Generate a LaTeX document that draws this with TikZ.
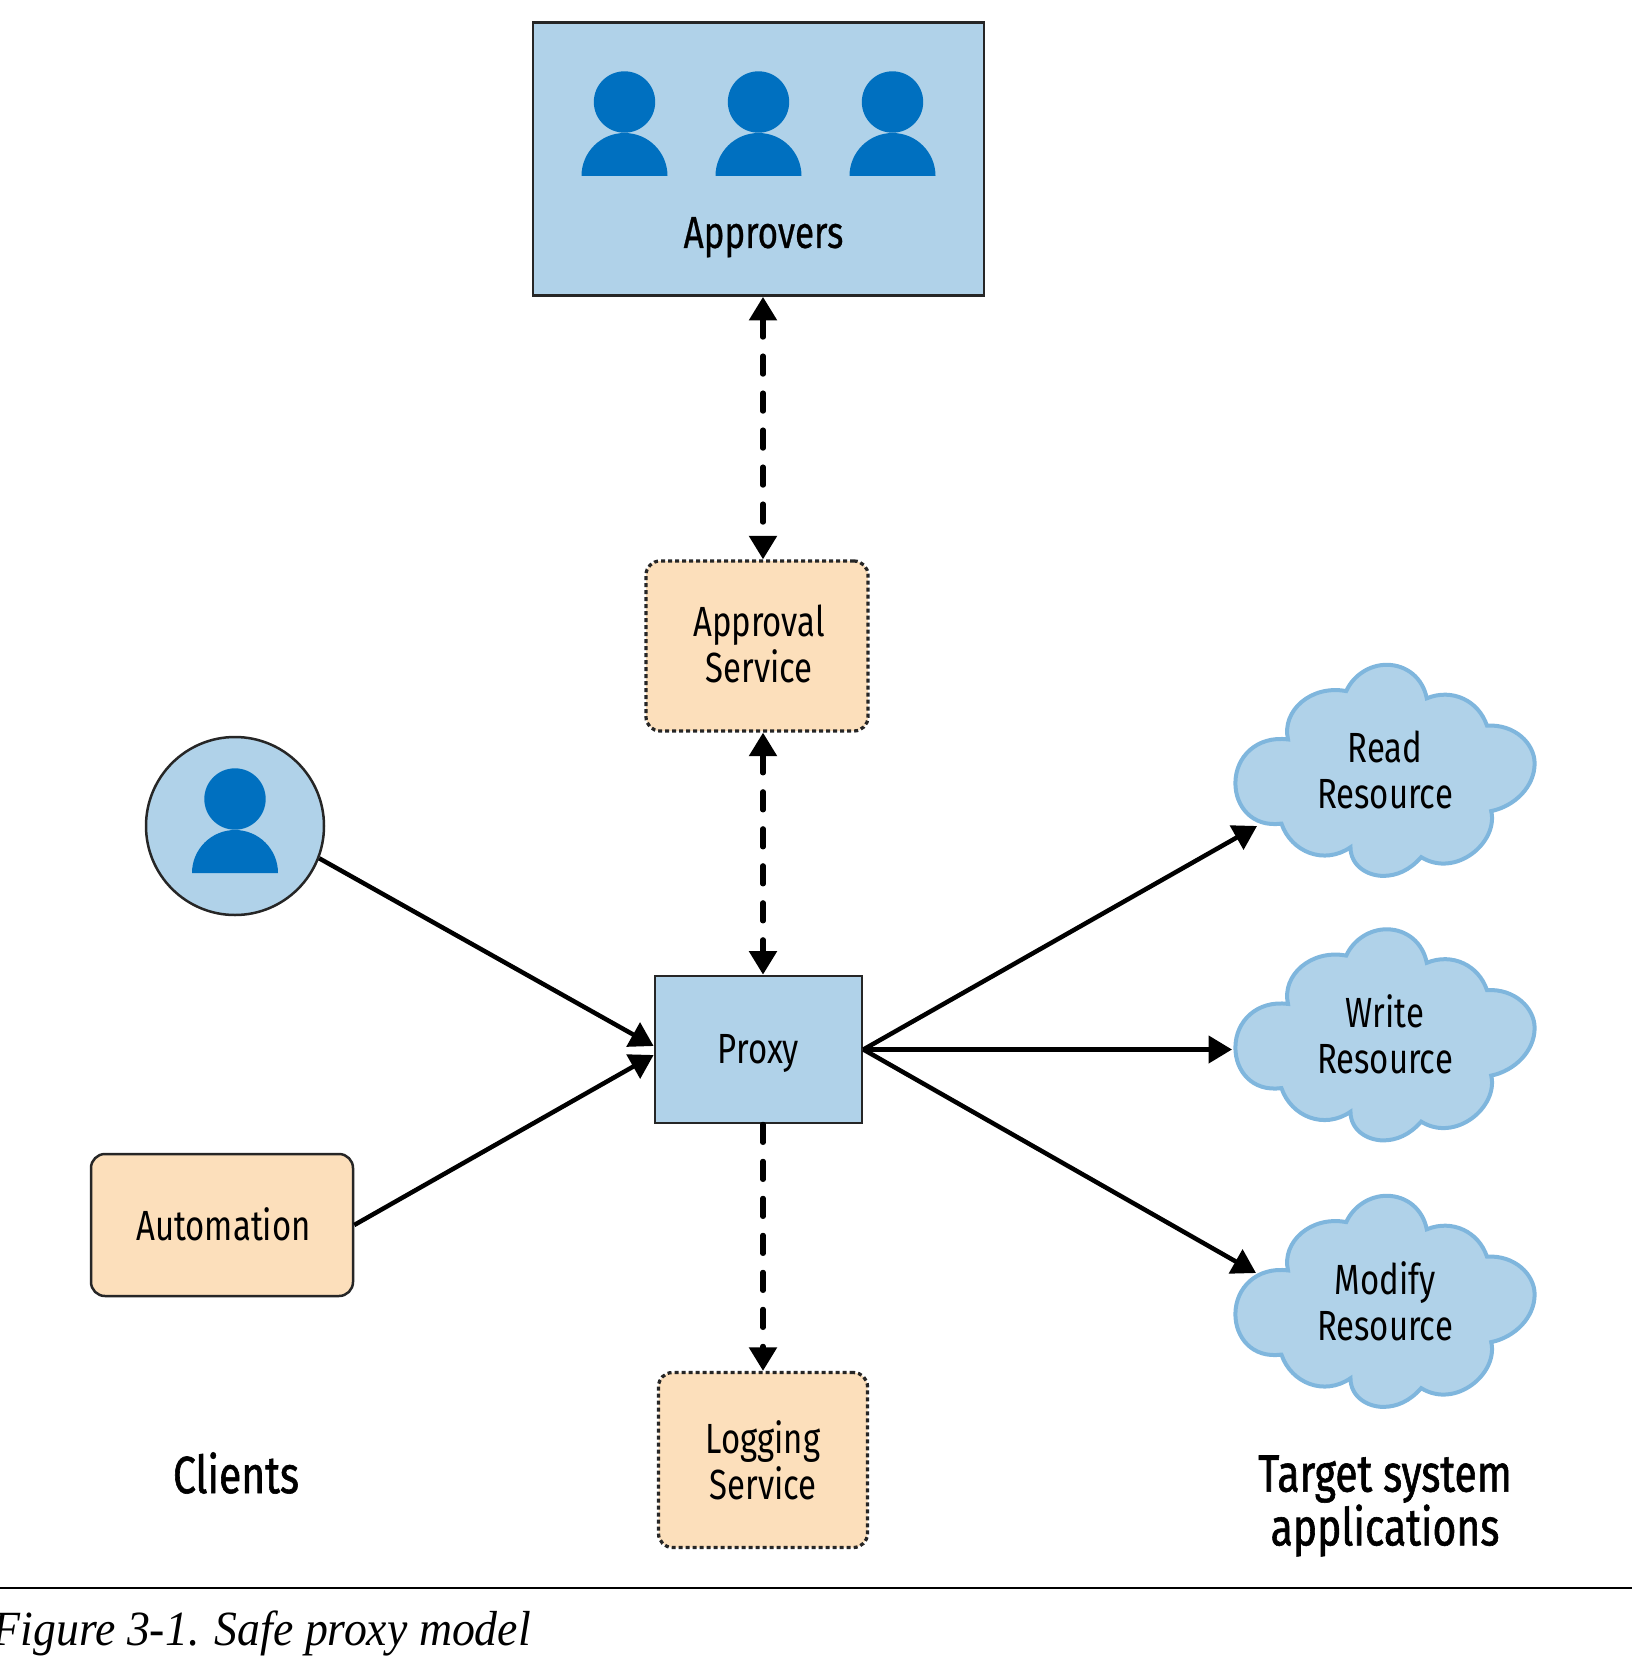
\documentclass[tikz,border=0pt]{standalone}
\usepackage{fontspec}
\setmainfont[FakeStretch=0.78]{Fira Sans}
\newfontfamily\mediumfont[FakeStretch=0.78,FakeBold=0.5]{Fira Sans}
\newfontfamily\heavyfont[FakeStretch=0.78,FakeBold=1.1]{Fira Sans}
\newfontfamily\captionfont[FakeStretch=0.93]{Liberation Serif}
\usetikzlibrary{calc,positioning,arrows.meta,backgrounds}

\definecolor{boxblue}{HTML}{B0D2E9}
\definecolor{cloudedge}{HTML}{7FB6DD}
\definecolor{personblue}{HTML}{0070C0}
\definecolor{boxorange}{HTML}{FCDFBB}

\tikzset{
  headtip/.tip={Triangle[length=0.47cm,width=0.54cm]},
  bluebox/.style={draw=black!85,fill=boxblue,line width=0.055cm,inner sep=0pt},
  orangebox/.style={draw=black!85,fill=boxorange,line width=0.05cm,rounded corners=0.28cm,inner sep=0pt,align=center},
  serviceline/.style={line width=0.065cm,dash pattern=on 0.08cm off 0.06cm},
  flowline/.style={line width=0.09cm,-headtip},
  dashline/.style={line width=0.105cm,line cap=round,dash pattern=on 0.36cm off 0.38cm},
  textlabel/.style={font=\fontsize{24pt}{26.4pt}\selectfont,align=center,inner sep=0pt},
  grouplabel/.style={font=\fontsize{29.8pt}{29pt}\selectfont\heavyfont,align=center,inner sep=0pt},
  person/.pic={
    \fill[personblue] (0,0) circle[radius=0.614cm];
    \fill[personblue] (-0.86,-1.48) arc[start angle=180,end angle=0,radius=0.86cm];
  },
  puff/.pic={
    \draw[x=0.00657cm,y=-0.00657cm,shift={(-615,-390)},draw=cloudedge,fill=boxblue,line width=0.08cm]
      (300,553) .. controls (210,565) and (160,500) .. (160,430)
      .. controls (160,350) and (225,285) .. (320,297)
      .. controls (300,210) and (390,130) .. (497,150)
      .. controls (520,100) and (570,70) .. (620,70)
      .. controls (680,70) and (730,110) .. (742,172)
      .. controls (820,140) and (900,180) .. (925,255)
      .. controls (1010,250) and (1070,310) .. (1070,370)
      .. controls (1070,440) and (1010,500) .. (938,515)
      .. controls (960,610) and (830,720) .. (725,655)
      .. controls (690,695) and (650,712) .. (610,712)
      .. controls (560,712) and (510,680) .. (510,625)
      .. controls (430,680) and (330,640) .. (300,553) -- cycle;
  }
}

\begin{document}
\begin{tikzpicture}[node distance=1cm]
  \useasboundingbox (0,0) rectangle (32.64,-33.2);

  \node[bluebox, minimum width=4.14cm, minimum height=2.94cm] (proxy) at (15.17,-20.99) {};
  \node[textlabel, yshift=-0.08cm] (proxy_t) at (proxy) {Proxy};

  \node[bluebox, above of=proxy, node distance=17.81cm, minimum width=9.02cm, minimum height=5.46cm] (approvers) {};
  \node[textlabel, above of=approvers, node distance=-1.565cm, xshift=0.1cm, font=\fontsize{25.5pt}{26.4pt}\selectfont\mediumfont] (approvers_t) {Approvers};

  \node[orangebox, serviceline, above of=proxy, node distance=8.07cm, xshift=-0.03cm, minimum width=4.44cm, minimum height=3.4cm] (approval) {};
  \node[textlabel, yshift=0.04cm, xshift=0.04cm] (approval_t) at (approval) {Approval\\Service};

  \node[orangebox, serviceline, below of=proxy, node distance=8.21cm, xshift=0.09cm, minimum width=4.18cm, minimum height=3.5cm] (logging) {};
  \node[textlabel] (logging_t) at (logging) {Logging\\Service};

  \node[orangebox, minimum width=5.24cm, minimum height=2.84cm] (automation) at (4.44,-24.5) {};
  \node[textlabel, yshift=0.02cm, xshift=0.03cm] (automation_t) at (automation) {Automation};

  \node[circle, draw=black!85, fill=boxblue, line width=0.05cm, minimum size=3.56cm, inner sep=0pt] (client) at (4.7,-16.52) {};

  %%%%

  \node[right of=proxy, node distance=12.53cm, yshift=0.3cm, textlabel] (write) {Write\\Resource};
  \node[above of=write, node distance=5.29cm, textlabel] (read) {Read\\Resource};
  \node[below of=write, node distance=5.33cm, textlabel] (modify) {Modify\\Resource};

  \begin{scope}[on background layer]
    \foreach \res in {read,write,modify} {
      \pic at (\res) {puff};
    }
  \end{scope}

  \pic at ($(approvers)+(-2.68,1.14)$) {person};
  \pic at ($(approvers)+(0,1.14)$) {person};
  \pic at ($(approvers)+(2.68,1.14)$) {person};
  \pic at ($(client)+(0,0.54)$) {person};

  \node[grouplabel] (clients_t) at (4.72,-29.46) {Clients};
  \node[grouplabel] (target_t) at (27.7,-30.12) {Target system\\applications};

  %%%%

  \coordinate (proxy_in1) at ($(proxy.west)+(0,0.07)$);
  \coordinate (proxy_in2) at ($(proxy.west)+(0,-0.11)$);
  \coordinate (read_in) at ($(read)+(-2.56,-1.12)$);
  \coordinate (write_in) at ($(write)+(-3.06,-0.3)$);
  \coordinate (modify_in) at ($(modify)+(-2.58,0.56)$);

  \draw[flowline] (client.-21) -- (proxy_in1);
  \draw[flowline] (automation.east) -- (proxy_in2);
  \draw[flowline] (proxy.east) -- (read_in);
  \draw[flowline] (proxy.east) -- (write_in);
  \draw[flowline] (proxy.east) -- (modify_in);

  \draw[dashline, headtip-headtip] ([xshift=0.09cm]approvers.south) -- ([xshift=0.12cm]approval.north);
  \draw[dashline, headtip-headtip] ([xshift=0.12cm]approval.south) -- ([xshift=0.09cm]proxy.north);
  \draw[dashline, -headtip] ([xshift=0.09cm]proxy.south) -- (logging.north);

  %%%%

  \coordinate (rule_l) at (0,-31.76);
  \coordinate (rule_r) at (32.64,-31.76);
  \draw[line width=0.04cm] (rule_l) -- (rule_r);
  \node[anchor=base west, inner sep=0pt, font=\fontsize{28pt}{30pt}\selectfont\captionfont\itshape] (caption) at (-0.15,-32.9) {Figure 3-1. Safe proxy model};
\end{tikzpicture}
\end{document}
